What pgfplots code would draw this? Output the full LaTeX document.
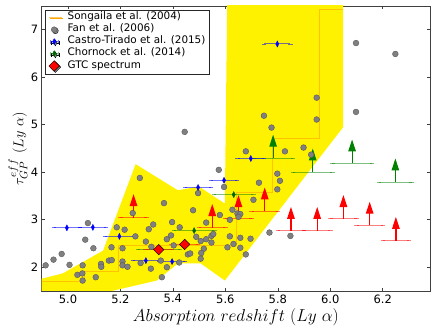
\documentclass[border=0pt]{standalone}
\usepackage{fontspec}
\setmainfont{DejaVu Sans}
\usepackage{pgfplots}
\pgfplotsset{compat=1.18}
\usetikzlibrary{arrows.meta,shadows}

\definecolor{mplblue}{HTML}{0000FF}
\definecolor{mplgreen}{HTML}{008000}
\definecolor{mplred}{HTML}{FF0000}
\definecolor{fangray}{HTML}{808080}
\definecolor{songorange}{HTML}{FFA500}

% Songaila et al. (2004) envelope
\pgfplotstableread{
x y
4.85 1.69
4.98 1.87
5.134 2.35
5.258 4.17
5.419 3.62
5.499 3.70
5.598 3.34
5.610 9.0
6.049 9.0
6.049 4.95
5.598 1.72
5.506 2.08
5.419 2.08
5.339 1.72
5.159 1.49
5.0 1.0
4.85 1.0
}\songenv

% Songaila et al. (2004) median steps
\pgfplotstableread{
x y
4.85 1.70
5.064 1.92
5.194 2.46
5.644 3.58
5.781 4.72
5.957 7.42
6.048 7.42
}\songstep

% Fan et al. (2006)
\pgfplotstableread{
x y
4.915 2.04
4.945 2.16
4.976 2.28
5.006 2.05
5.066 2.58
5.076 2.93
5.097 2.40
5.056 2.04
5.036 1.84
5.055 1.87
5.056 1.72
5.106 1.79
5.126 2.07
5.127 2.01
5.156 2.14
5.167 2.15
5.166 2.42
5.186 2.84
5.216 2.79
5.208 2.40
5.208 2.12
5.208 2.04
5.227 2.01
5.257 2.65
5.247 3.14
5.274 3.88
5.366 3.35
5.325 2.90
5.308 2.80
5.297 2.54
5.318 2.43
5.277 2.09
5.316 1.97
5.358 1.79
5.377 2.59
5.397 2.95
5.393 2.67
5.403 2.46
5.377 2.00
5.426 2.84
5.424 2.10
5.445 4.85
5.457 2.27
5.466 2.29
5.477 3.20
5.489 2.64
5.496 3.56
5.506 2.55
5.527 2.59
5.527 2.94
5.518 2.39
5.508 2.30
5.506 2.18
5.547 2.66
5.554 2.70
5.547 2.52
5.575 4.05
5.579 3.10
5.595 3.69
5.608 2.42
5.617 2.65
5.631 2.49
5.617 3.00
5.627 3.21
5.646 3.13
5.657 3.12
5.650 3.06
5.657 2.62
5.657 2.41
5.678 2.27
5.696 2.60
5.707 3.42
5.728 3.78
5.747 5.19
5.776 4.94
5.678 4.44
5.827 4.44
5.898 4.52
5.927 4.37
5.798 3.97
5.808 3.82
5.798 3.64
5.768 2.73
5.848 2.66
5.948 5.57
5.948 5.11
6.098 6.72
6.248 6.49
6.098 5.27
5.354 2.14
}\fan

% Castro-Tirado et al. (2015)
\pgfplotstableread{
x y ex
4.996 2.83 0.05
5.095 2.84 0.05
5.196 2.65 0.055
5.297 2.14 0.05
5.397 2.12 0.05
5.496 3.68 0.05
5.595 3.83 0.05
5.697 4.29 0.05
5.798 6.70 0.05
}\castro

% Chornock et al. (2014)
\pgfplotstableread{
x y ex
5.346 2.37 0.08
5.481 2.77 0.077
5.632 3.53 0.075
}\chornock
\pgfplotstableread{
x y ex
5.782 4.29 0.075
5.933 4.00 0.075
6.083 4.19 0.075
6.248 3.79 0.062
}\chornocklim

% GTC
\pgfplotstableread{
x y ex
5.346 2.37 0.05
5.445 2.48 0.05
}\gtc
\pgfplotstableread{
x y ex
5.25 3.04 0.05
5.55 2.83 0.05
5.65 3.02 0.05
5.75 3.18 0.05
5.85 2.77 0.05
5.95 2.77 0.05
6.05 3.02 0.05
6.15 2.88 0.05
6.25 2.56 0.05
}\gtclim

\begin{document}
\begin{tikzpicture}
\begin{axis}[
    scale only axis,
    width=388.3pt, height=285pt,
    xmin=4.9, xmax=6.38, ymin=1.5, ymax=7.5,
    xtick={5.0,5.2,5.4,5.6,5.8,6.0,6.2},
    ytick={2,3,4,5,6,7},
    xticklabel style={/pgf/number format/.cd,fixed,fixed zerofill,precision=1},
    /pgf/number format/assume math mode=true,
    tick label style={font=\fontsize{11.5}{12}\selectfont},
    tick align=inside,
    major tick length=3pt,
    tick style={black!75, line width=0.6pt},
    axis line style={black!75, line width=0.9pt},
    xlabel={$Absorption\ redshift\ (Ly\ \alpha)$},
    ylabel={$\tau^{eff}_{GP}\ (Ly\ \alpha)$},
    xlabel style={at={(axis description cs:0.5,-0.092)}, anchor=center, font=\fontsize{16}{16}\selectfont},
    ylabel style={at={(axis description cs:-0.061,0.5)}, anchor=center, font=\fontsize{15.5}{15.5}\selectfont},
    legend cell align=left,
    legend style={at={(0.0085,0.986)}, anchor=north west, draw=black!85, fill=white,
        font=\fontsize{10.4}{10.4}\selectfont, inner xsep=1.5pt, inner ysep=2.3pt, row sep=1.7pt,
        nodes={inner ysep=1pt, inner xsep=2pt, text height=6.5pt, text depth=1.8pt},
        drop shadow={shadow xshift=1.2pt, shadow yshift=-1.2pt, fill=black!45, opacity=1}},
]

\addplot[fill=yellow, draw=none, forget plot] table {\songenv} -- cycle;

\addplot[const plot, songorange, opacity=0.6, line width=1pt,
    legend image code/.code={\path (-2pt,0pt) (16pt,0pt);
        \draw[songorange, opacity=0.6, line width=1pt] (0pt,0pt) -- (13pt,0pt);}]
    table {\songstep};
\addlegendentry{Songaila et al. (2004)}

% lower limits: horizontal bars
\addplot[draw=none, mark=none, forget plot,
    error bars/.cd, x dir=both, x explicit,
    error bar style={draw=mplred, draw opacity=0.5, line width=1pt},
    error mark options={draw=mplred, draw opacity=0.5, mark size=2.2pt, line width=0.8pt}]
    table[x=x, y=y, x error=ex] {\gtclim};
\addplot[draw=none, mark=none, forget plot,
    error bars/.cd, x dir=both, x explicit,
    error bar style={draw=mplgreen, draw opacity=0.5, line width=1pt},
    error mark options={draw=mplgreen, draw opacity=0.5, mark size=2.2pt, line width=0.8pt}]
    table[x=x, y=y, x error=ex] {\chornocklim};
% lower limits: arrows
\addplot[mplred, mark=none, line width=1.3pt, -{Triangle[width=7.5pt,length=12pt]},
    quiver={u=0, v=0.5}, forget plot] table[x=x, y=y] {\gtclim};
\addplot[mplgreen, mark=none, line width=1.1pt, -{Triangle[width=7.5pt,length=12pt]},
    quiver={u=0, v=0.5}, forget plot] table[x=x, y=y] {\chornocklim};

\addplot[only marks, mark=*, mark size=2.9pt,
    mark options={fill=fangray, draw=black!65, line width=0.4pt},
    legend image code/.code={\path (-2pt,0pt) (16pt,0pt);
        \fill[fangray, draw=black!65, line width=0.4pt] (5pt,0pt) circle (2.9pt);}]
    table {\fan};
\addlegendentry{Fan et al. (2006)}

\addplot[only marks, mark=diamond*, mark size=3pt,
    mark options={xscale=0.7, fill=mplblue, draw=mplblue},
    error bars/.cd, x dir=both, x explicit,
    error bar style={mplblue, opacity=0.55, line width=1pt},
    error mark options={mplblue, opacity=0.55, mark size=2.2pt, line width=0.8pt},
    /pgfplots/legend image code/.code={\path (-2pt,0pt) (16pt,0pt);
        \draw[mplblue, opacity=0.55, line width=0.8pt] (1pt,0pt) -- (9pt,0pt) (1pt,-2pt) -- (1pt,2pt) (9pt,-2pt) -- (9pt,2pt);
        \fill[mplblue] (5pt,3pt) -- (6.6pt,0pt) -- (5pt,-3pt) -- (3.4pt,0pt) -- cycle;}]
    table[x=x, y=y, x error=ex] {\castro};
\addlegendentry{Castro-Tirado et al. (2015)}

\addplot[only marks, mark=diamond*, mark size=3pt,
    mark options={xscale=0.7, fill=mplgreen!80!black, draw=mplgreen!80!black},
    error bars/.cd, x dir=both, x explicit,
    error bar style={mplgreen, opacity=0.5, line width=1pt},
    error mark options={mplgreen, opacity=0.5, mark size=2.2pt, line width=0.8pt},
    /pgfplots/legend image code/.code={\path (-2pt,0pt) (16pt,0pt);
        \draw[mplgreen, opacity=0.5, line width=0.8pt] (1pt,0pt) -- (9pt,0pt) (1pt,-2pt) -- (1pt,2pt) (9pt,-2pt) -- (9pt,2pt);
        \fill[mplgreen!80!black] (5pt,3pt) -- (6.6pt,0pt) -- (5pt,-3pt) -- (3.4pt,0pt) -- cycle;}]
    table[x=x, y=y, x error=ex] {\chornock};
\addlegendentry{Chornock et al. (2014)}

\addplot[only marks, mark=square*, mark size=3.7pt,
    mark options={rotate=45, fill=mplred, draw=black, line width=0.4pt},
    error bars/.cd, x dir=both, x explicit,
    error bar style={mplred, opacity=0.5, line width=1pt},
    error mark options={mplred, opacity=0.5, mark size=2.2pt, line width=0.8pt},
    /pgfplots/legend image code/.code={\path (-2pt,0pt) (16pt,0pt);
        \draw[fill=mplred, draw=black, line width=0.4pt] (5pt,5.3pt) -- (10.3pt,0pt) -- (5pt,-5.3pt) -- (-0.3pt,0pt) -- cycle;}]
    table[x=x, y=y, x error=ex] {\gtc};
\addlegendentry{GTC spectrum}

\end{axis}
\pgfresetboundingbox
\useasboundingbox ([shift={(-41.7pt,-41pt)}]current axis.south west) rectangle ([shift={(9pt,6pt)}]current axis.north east);
\end{tikzpicture}
\end{document}
